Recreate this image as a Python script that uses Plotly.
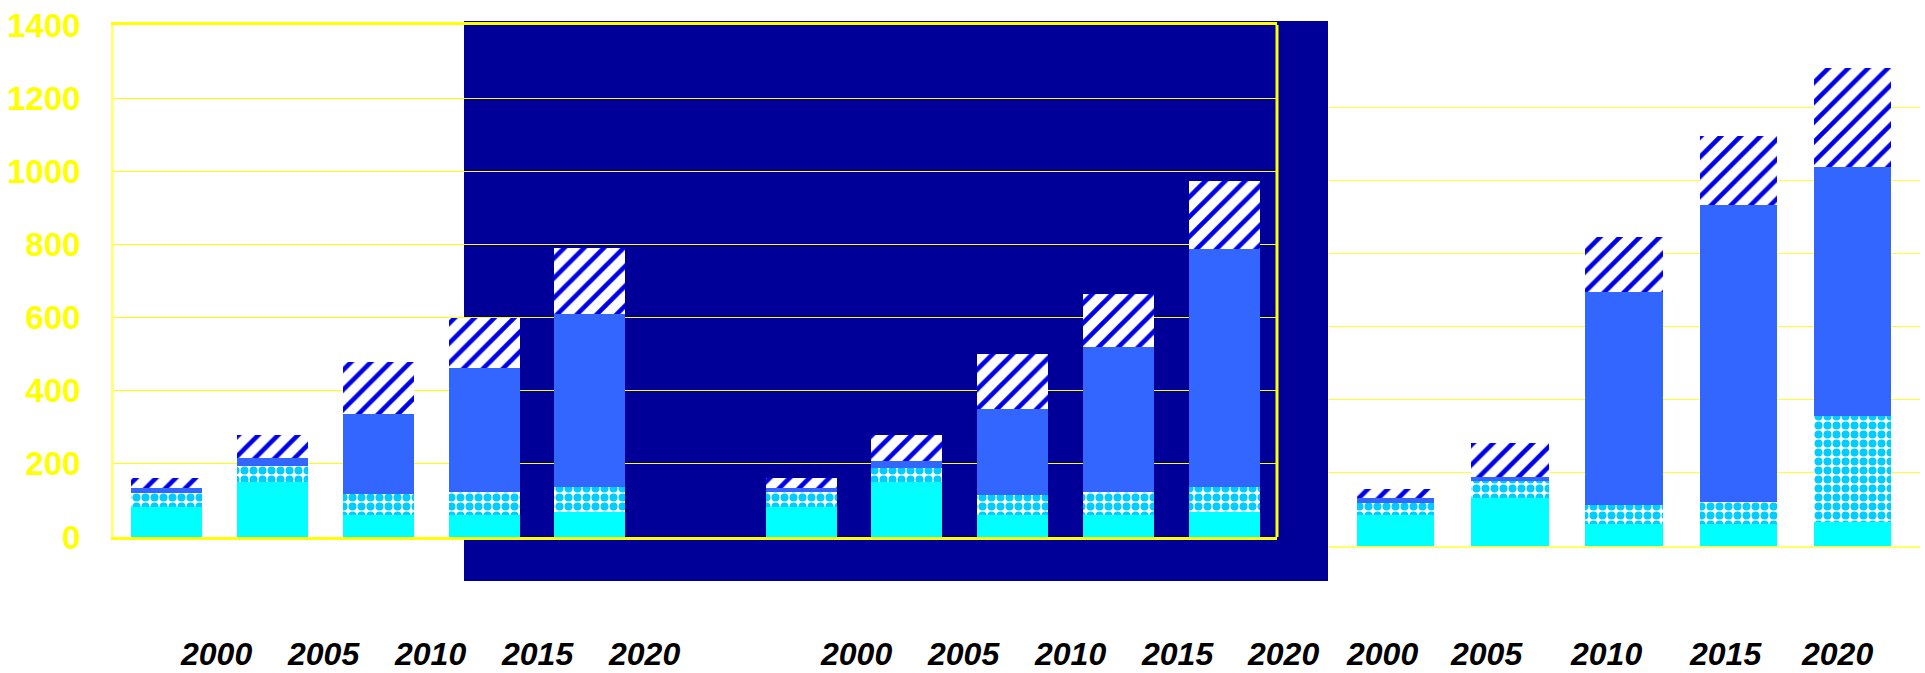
import plotly.graph_objects as go

W, H = 1925, 673

years = ["2000", "2005", "2010", "2015", "2020"]

# Chart A (left group, white area)
a_base = [82, 150, 60, 60, 68]
a_check = [38, 43, 58, 62, 70]
a_blue = [15, 24, 217, 339, 472]
a_hatch = [26, 62, 144, 137, 181]

# Chart B (middle group, dark area)
b_base = [82, 150, 60, 60, 68]
b_check = [40, 40, 55, 62, 70]
b_blue = [13, 18, 236, 398, 650]
b_hatch = [26, 71, 150, 145, 186]

# Chart C (right group)
c_base = [85, 131, 60, 60, 66]
c_check = [32, 48, 52, 61, 290]
c_blue = [14, 10, 583, 811, 681]
c_hatch = [24, 93, 151, 190, 270]

y_ticks = [0, 200, 400, 600, 800, 1000, 1200, 1400]

# slot indices on the shared left/middle axis (slot 5 is empty)
a_slots = [0, 1, 2, 3, 4]
b_slots = [6, 7, 8, 9, 10]
c_slots = [0, 1, 2, 3, 4]

styles = [
    dict(color="#00FFFF"),
    dict(color="#00CCFF",
         pattern=dict(shape=".", fgcolor="#00CCFF", bgcolor="#FFFFFF",
                      size=9, solidity=0.62, fillmode="replace")),
    dict(color="#3366FF"),
    dict(color="#0000E6",
         pattern=dict(shape="/", fgcolor="#0000E6", bgcolor="#FFFFFF",
                      size=14, solidity=0.33, fillmode="replace")),
]

fig = go.Figure()

ab_series = [a_base + b_base, a_check + b_check, a_blue + b_blue, a_hatch + b_hatch]
c_series = [c_base, c_check, c_blue, c_hatch]

for vals, st in zip(ab_series, styles):
    fig.add_trace(go.Bar(
        x=a_slots + b_slots, y=vals, width=0.672,
        marker=dict(line=dict(width=0), **st),
        xaxis="x", yaxis="y", showlegend=False, hoverinfo="y"))

for vals, st in zip(c_series, styles):
    fig.add_trace(go.Bar(
        x=c_slots, y=vals, width=0.678,
        marker=dict(line=dict(width=0), **st),
        xaxis="x2", yaxis="y2", showlegend=False, hoverinfo="y"))

def px(v):
    return v / W

def py(v):
    return 1 - v / H

# x label centres (pixels) for the 15 year labels
label_x = [216, 323, 430, 537, 644, 856, 963, 1070, 1177, 1283,
           1382, 1486, 1606, 1725, 1837]
label_text = years + years + years

annotations = []
for xp, t in zip(label_x, label_text):
    annotations.append(dict(
        x=px(xp), y=0, xref="paper", yref="paper",
        text="<b><i>" + t + "</i></b>", showarrow=False,
        xanchor="center", yanchor="bottom", borderpad=0,
        font=dict(family="Liberation Sans", size=32, color="#000000")))

shapes = [
    # dark blue backdrop
    dict(type="rect", xref="paper", yref="paper",
         x0=px(464), x1=px(1328), y0=py(581), y1=py(21),
         fillcolor="#000099", line=dict(width=0), layer="below"),
    # right edge of the yellow frame
    dict(type="line", xref="x domain", yref="y domain",
         x0=1, x1=1, y0=0, y1=1,
         line=dict(color="#FFFF00", width=3), layer="above"),
]

fig.update_layout(
    template="none",
    width=W, height=H,
    margin=dict(l=0, r=0, t=0, b=0, pad=0, autoexpand=False),
    paper_bgcolor="#FFFFFF",
    plot_bgcolor="rgba(0,0,0,0)",
    barmode="stack",
    showlegend=False,
    annotations=annotations,
    shapes=shapes,
    xaxis=dict(
        domain=[px(114), px(1277)], range=[-0.5, 10.5],
        showgrid=False, zeroline=False, showticklabels=False, ticks="",
        showline=True, linecolor="#FFFF00", linewidth=3, mirror=True,
        automargin=False, anchor="y"),
    yaxis=dict(
        domain=[py(537), py(25)], range=[0, 1400],
        tickvals=y_ticks, ticktext=[str(v) for v in y_ticks],
        showgrid=True, gridcolor="#FFFF00", gridwidth=1,
        zeroline=False,
        showline=True, linecolor="#FFFF80", linewidth=3,
        ticks="outside", ticklen=24, tickcolor="rgba(0,0,0,0)",
        tickfont=dict(family="Liberation Sans", size=33, color="#FFFF00",
                      weight="bold"),
        automargin=False, anchor="x"),
    xaxis2=dict(
        domain=[px(1328), px(1920)], range=[-0.5906, 4.589],
        showgrid=False, zeroline=False, showticklabels=False, ticks="",
        showline=True, linecolor="#FFFF66", linewidth=2,
        automargin=False, anchor="y2"),
    yaxis2=dict(
        domain=[py(546), py(34)], range=[0, 1400],
        tickvals=y_ticks,
        showgrid=True, gridcolor="#FFFF33", gridwidth=1,
        zeroline=False, showline=False, showticklabels=False, ticks="",
        automargin=False, anchor="x2"),
)

fig.write_html("out.html")
